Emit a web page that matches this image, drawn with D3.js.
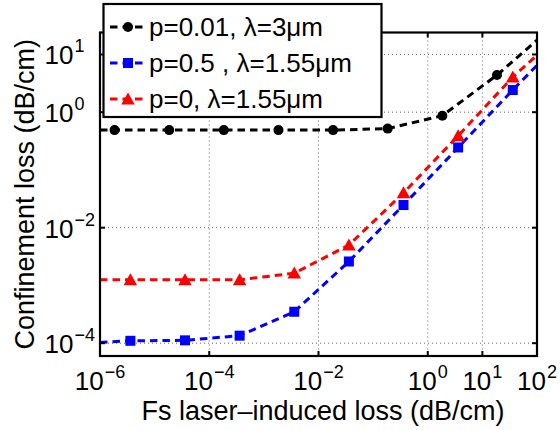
<!DOCTYPE html>
<html><head><meta charset="utf-8">
<script src="https://cdn.jsdelivr.net/npm/d3@7"></script>
<style>body{margin:0;background:#fff}</style>
</head><body>
<svg id="chart" width="560" height="430"></svg>
<script>
// ---- data ----
const xMarkBlack = [1.85e-6, 1.85e-5, 1.85e-4, 1.85e-3, 1.85e-2, 0.185, 1.85, 18.5];
const yMarkBlack = [0.49, 0.49, 0.49, 0.49, 0.49, 0.52, 0.87, 4.4];
const xMarkRB    = [3.6e-6, 3.6e-5, 3.6e-4, 3.6e-3, 3.6e-2, 0.36, 3.6, 36];
const yMarkRed   = [1.25e-3, 1.25e-3, 1.25e-3, 1.63e-3, 5.0e-3, 0.040, 0.39, 4.05];
const yMarkBlue  = [1.1e-4, 1.12e-4, 1.35e-4, 3.5e-4, 2.6e-3, 0.0247, 0.245, 2.42];
const xLineEnds  = [1e-6, 1e2];
const yEndsBlack = [0.49, 17.7];
const yEndsRed   = [1.25e-3, 9.7];
const yEndsBlue  = [1.03e-4, 6.5];
const xTickVals  = [1e-6, 1e-4, 1e-2, 1, 10, 100];
const xTickExp   = ["\u22126", "\u22124", "\u22122", "0", "1", "2"];
const xGridVals  = [1e-4, 1e-2, 1, 10];
const yTickVals  = [1e-4, 1e-2, 1, 10];
const yTickExp   = ["\u22124", "\u22122", "0", "1"];
const seriesNames = ["p=0.01, \u03bb=3\u03bcm", "p=0.5 , \u03bb=1.55\u03bcm", "p=0, \u03bb=1.55\u03bcm"];
const seriesColors = ["#000000", "#0000ff", "#ff0000"];
const seriesShapes = ["circle", "square", "triangle"];
const xLabel = "Fs laser\u2013induced loss (dB/cm)";
const yLabel = "Confinement loss (dB/cm)";

// ---- layout ----
const L = 100, R = 537, T = 32.5, B = 356;
const FONT = "Liberation Sans, Arial, Helvetica, sans-serif";
const svg = d3.select("#chart").style("font-family", FONT);
svg.append("rect").attr("width", 560).attr("height", 430).attr("fill", "#fff");

const x = d3.scaleLog().domain([1e-6, 1e2]).range([L, R]);
const y = d3.scaleLog().domain([6e-5, 24]).range([B, T]);

// grid
const g = svg.append("g");
g.selectAll(".vg").data(xGridVals).join("line")
  .attr("x1", d => x(d)).attr("x2", d => x(d)).attr("y1", T).attr("y2", B)
  .attr("stroke", "#666").attr("stroke-width", 1).attr("stroke-dasharray", "1,3");
g.selectAll(".hg").data(yTickVals).join("line")
  .attr("x1", L).attr("x2", R).attr("y1", d => y(d)).attr("y2", d => y(d))
  .attr("stroke", "#666").attr("stroke-width", 1).attr("stroke-dasharray", "1,3");

// series
const series = [
  {xs: xMarkBlack, ys: yMarkBlack, ends: yEndsBlack},
  {xs: xMarkRB, ys: yMarkBlue, ends: yEndsBlue},
  {xs: xMarkRB, ys: yMarkRed, ends: yEndsRed}
];
const line = d3.line().x(d => x(d[0])).y(d => y(d[1]));
function marker(sel, shape, color, cx, cy) {
  if (shape === "circle") {
    sel.append("circle").attr("cx", cx).attr("cy", cy).attr("r", 5).attr("fill", color);
  } else if (shape === "square") {
    sel.append("rect").attr("x", cx - 5).attr("y", cy - 5).attr("width", 10).attr("height", 10).attr("fill", color);
  } else {
    const h = 12, w = 13.5;
    sel.append("path").attr("d", `M${cx},${cy - h * 0.55}L${cx + w / 2},${cy + h * 0.45}L${cx - w / 2},${cy + h * 0.45}Z`).attr("fill", color);
  }
}
series.forEach((s, i) => {
  const pts = [[xLineEnds[0], s.ends[0]]].concat(s.xs.map((v, k) => [v, s.ys[k]])).concat([[xLineEnds[1], s.ends[1]]]);
  svg.append("path").attr("d", line(pts)).attr("fill", "none")
    .attr("stroke", seriesColors[i]).attr("stroke-width", 3).attr("stroke-dasharray", "7.5,5");
});
series.forEach((s, i) => {
  const mg = svg.append("g");
  s.xs.forEach((v, k) => marker(mg, seriesShapes[i], seriesColors[i], x(v), y(s.ys[k])));
});

// axes box and ticks
const ax = svg.append("g");
ax.append("rect").attr("x", L).attr("y", T).attr("width", R - L).attr("height", B - T)
  .attr("fill", "none").attr("stroke", "#000").attr("stroke-width", 2.2);
const tl = 5;
xGridVals.forEach(v => {
  ax.append("line").attr("x1", x(v)).attr("x2", x(v)).attr("y1", B).attr("y2", B - tl).attr("stroke", "#000").attr("stroke-width", 2);
  ax.append("line").attr("x1", x(v)).attr("x2", x(v)).attr("y1", T).attr("y2", T + tl).attr("stroke", "#000").attr("stroke-width", 2);
});
yTickVals.forEach(v => {
  ax.append("line").attr("x1", L).attr("x2", L + tl).attr("y1", y(v)).attr("y2", y(v)).attr("stroke", "#000").attr("stroke-width", 2);
  ax.append("line").attr("x1", R).attr("x2", R - tl).attr("y1", y(v)).attr("y2", y(v)).attr("stroke", "#000").attr("stroke-width", 2);
});

// x tick labels
xTickVals.forEach((v, i) => {
  const t = ax.append("text").attr("x", x(v)).attr("y", 390).attr("text-anchor", "middle")
    .attr("font-size", 26).attr("fill", "#000");
  t.append("tspan").text("10");
  t.append("tspan").attr("dy", -12).attr("dx", 1).attr("font-size", 18).text(xTickExp[i]);
});
// y tick labels
yTickVals.forEach((v, i) => {
  const t = ax.append("text").attr("x", 44.5).attr("y", y(v) + 10).attr("text-anchor", "start")
    .attr("font-size", 26).attr("fill", "#000");
  t.append("tspan").text("10");
  t.append("tspan").attr("dy", -12).attr("dx", 1).attr("font-size", 18).text(yTickExp[i]);
});

// axis labels
svg.append("text").attr("x", 323).attr("y", 420).attr("text-anchor", "middle")
  .attr("font-size", 27).text(xLabel);
svg.append("text").attr("transform", `translate(34,${(T + B) / 2}) rotate(-90)`)
  .attr("text-anchor", "middle").attr("font-size", 27).text(yLabel);

// legend
const lg = svg.append("g");
lg.append("rect").attr("x", 103.5).attr("y", 4).attr("width", 278).attr("height", 113)
  .attr("fill", "#fff").attr("stroke", "#000").attr("stroke-width", 2.2);
const rowY = [27, 63, 99];
seriesNames.forEach((name, i) => {
  lg.append("line").attr("x1", 110).attr("x2", 146).attr("y1", rowY[i]).attr("y2", rowY[i])
    .attr("stroke", seriesColors[i]).attr("stroke-width", 3).attr("stroke-dasharray", "7.5,5");
  marker(lg, seriesShapes[i], seriesColors[i], 128, rowY[i]);
  lg.append("text").attr("x", 149).attr("y", rowY[i] + 9).attr("font-size", 26).text(name);
});
</script>
</body></html>
